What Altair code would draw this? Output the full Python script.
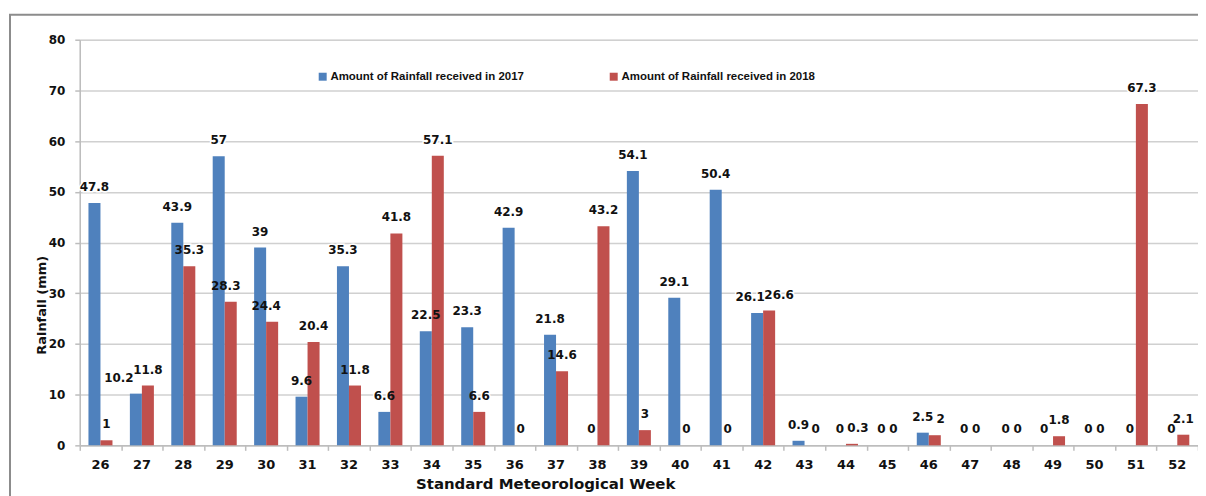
import altair as alt
import pandas as pd

weeks = list(range(26, 53))
rain_2017 = [47.8, 10.2, 43.9, 57, 39, 9.6, 35.3, 6.6, 22.5, 23.3, 42.9, 21.8, 0,
             54.1, 29.1, 50.4, 26.1, 0.9, 0, 0, 2.5, 0, 0, 0, 0, 0, 0]
rain_2018 = [1, 11.8, 35.3, 28.3, 24.4, 20.4, 11.8, 41.8, 57.1, 6.6, 0, 14.6, 43.2,
             3, 0, 0, 26.6, 0, 0.3, 0, 2, 0, 0, 1.8, 0, 67.3, 2.1]
series_names = ["Amount of Rainfall received in 2017", "Amount of Rainfall received in 2018"]
colors = ["#4F81BD", "#C0504D"]
y_ticks = [0, 10, 20, 30, 40, 50, 60, 70, 80]

# small label nudges (pixels) where labels would collide
label_nudge = {(27, 0): -17, (42, 0): -7, (42, 1): 10, (46, 1): 6, (44, 1): 6,
               (29, 1): -5, (30, 1): -6, (43, 1): 5, (49, 0): -3}

rows = []
for si, vals in enumerate([rain_2017, rain_2018]):
    for w, v in zip(weeks, vals):
        rows.append({"week": w, "series": series_names[si], "value": v,
                     "label": f"{v:g}", "nudge": label_nudge.get((w, si), 0)})
df = pd.DataFrame(rows)

W, H = 1122, 407
FONT = "DejaVu Sans"

x_band = alt.X("week:O", scale=alt.Scale(paddingInner=0.42, paddingOuter=0.21),
               axis=alt.Axis(orient="bottom", title="Standard Meteorological Week",
                             labelAngle=0, labelAlign="center", ticks=False, labelPadding=13,
                             labelFont=FONT, labelFontSize=13, labelFontWeight="bold",
                             labelColor="#111111", domainColor="#BDBDBD", domainWidth=1.5,
                             titleFont=FONT, titleFontSize=15, titleFontWeight="bold",
                             titleColor="#111111", titleX=467, titleY=31, titleBaseline="top"))
y_enc = alt.Y("value:Q", scale=alt.Scale(domain=[0, 80], nice=False),
              axis=alt.Axis(values=y_ticks, title="Rainfall (mm)", grid=True,
                            gridColor="#D0D0D0", gridWidth=1.5, domainColor="#BDBDBD",
                            domainWidth=1.5, tickColor="#BDBDBD", tickSize=5, tickWidth=1.5,
                            labelPadding=10, labelFont=FONT, labelFontSize=12,
                            labelFontWeight="bold", labelColor="#111111",
                            titleFont=FONT, titleFontSize=13, titleFontWeight="bold",
                            titleColor="#111111", titleX=-31, titleY=266))
x_off = alt.XOffset("series:N", scale=alt.Scale(domain=series_names, paddingInner=0, paddingOuter=0))

bars = alt.Chart(df).mark_bar().encode(
    x=x_band, xOffset=x_off, y=y_enc,
    color=alt.Color("series:N", scale=alt.Scale(domain=series_names, range=colors),
                    legend=alt.Legend(title=None, orient="none", legendX=238, legendY=31,
                                      direction="horizontal", symbolType="square",
                                      symbolSize=64, symbolStrokeWidth=0, columnPadding=84,
                                      labelFont="Liberation Sans",
                                      labelFontSize=11.5, labelFontWeight="bold",
                                      labelColor="#111111", labelLimit=400, labelOffset=2,
                                      padding=0)),
)


def text_layers(halo):
    layers = []
    for nd in sorted(df["nudge"].unique()):
        kw = dict(dy=-16, dx=int(nd), baseline="middle", font=FONT, fontSize=12,
                  fontWeight="bold")
        if halo:
            kw.update(color="white", stroke="white", strokeWidth=3)
        else:
            kw.update(color="#111111")
        layers.append(
            alt.Chart(df[df["nudge"] == nd]).mark_text(**kw).encode(
                x=x_band, xOffset=x_off, y=y_enc, text="label:N")
        )
    return layers


tick_vals = [25.5 + i for i in range(28)]
ticks_layer = alt.Chart(df).mark_point(opacity=0).encode(
    x=alt.X("week:Q", scale=alt.Scale(domain=[25.5, 52.5], nice=False, zero=False),
            axis=alt.Axis(orient="bottom", values=tick_vals, labels=False, grid=False,
                          domain=False, ticks=True, tickSize=5, tickColor="#BDBDBD",
                          tickWidth=1.5, title=None))
)

frame = alt.Chart(pd.DataFrame({"a": [0]})).mark_rect(
    filled=False, stroke="#8C8C8C", strokeWidth=2
).encode(x=alt.value(-70), x2=alt.value(W + 60), y=alt.value(-25), y2=alt.value(H + 80))

bar_part = alt.layer(*text_layers(True), bars, *text_layers(False))

chart = alt.layer(bar_part, ticks_layer, frame).resolve_scale(x="independent").resolve_axis(
    x="independent"
).properties(
    width=W, height=H,
    autosize=alt.AutoSizeParams(type="none"),
    padding={"left": 72, "top": 31, "right": 0, "bottom": 50},
).configure_view(stroke=None).configure(background="white")

chart.save("out.html", embed_options={"renderer": "svg", "actions": False})
